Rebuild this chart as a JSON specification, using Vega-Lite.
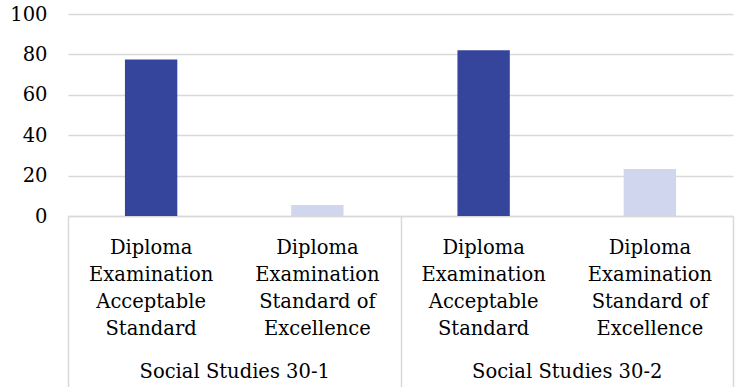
{
  "$schema": "https://vega.github.io/schema/vega-lite/v6.json",
  "autosize": "none",
  "width": 665,
  "height": 202,
  "padding": {"left": 68, "top": 14, "right": 7, "bottom": 171},
  "background": "white",
  "config": {
    "view": {"stroke": null},
    "font": "DejaVu Serif",
    "axis": {"labelFont": "DejaVu Serif", "labelColor": "#000000", "title": null}
  },
  "data": {
    "values": [
      {"group": "Social Studies 30-1", "key": "Diploma|Examination|Acceptable|Standard|1", "measure": "Acceptable", "value": 77.5},
      {"group": "Social Studies 30-1", "key": "Diploma|Examination|Standard of|Excellence|1", "measure": "Excellence", "value": 5.5},
      {"group": "Social Studies 30-2", "key": "Diploma|Examination|Acceptable|Standard|2", "measure": "Acceptable", "value": 82},
      {"group": "Social Studies 30-2", "key": "Diploma|Examination|Standard of|Excellence|2", "measure": "Excellence", "value": 23.3}
    ]
  },
  "layer": [
    {
      "mark": {"type": "bar", "width": {"band": 0.315}},
      "encoding": {
        "x": {
          "field": "key", "type": "nominal", "sort": null,
          "scale": {"paddingInner": 0, "paddingOuter": 0},
          "axis": {
            "orient": "bottom",
            "domain": false, "ticks": false, "grid": false,
            "labelAngle": 0,
            "labelExpr": "slice(split(datum.label, '|'), 0, 4)",
            "labelFont": "DejaVu Serif",
            "labelFontSize": 19.5,
            "labelLineHeight": 27,
            "labelBaseline": "top",
            "labelPadding": 22,
            "labelOverlap": false,
            "labelLimit": 300
          }
        },
        "y": {
          "field": "value", "type": "quantitative",
          "scale": {"domain": [0, 100]},
          "axis": {
            "values": [0, 20, 40, 60, 80, 100],
            "domain": false, "ticks": false,
            "gridColor": "#d9d9d9", "gridWidth": 1.5,
            "labelFont": "DejaVu Serif",
            "labelFontSize": 19.5,
            "labelPadding": 21
          }
        },
        "color": {
          "field": "measure", "type": "nominal",
          "scale": {"domain": ["Acceptable", "Excellence"], "range": ["#34459b", "#d0d6ee"]},
          "legend": null
        }
      }
    },
    {
      "mark": {"type": "bar", "opacity": 0},
      "encoding": {
        "x": {
          "field": "group", "type": "nominal", "sort": null,
          "scale": {"paddingInner": 0, "paddingOuter": 0},
          "axis": {
            "orient": "bottom",
            "domain": true, "domainColor": "#d9d9d9", "domainWidth": 1.5,
            "ticks": true, "tickBand": "extent", "tickSize": 171,
            "tickColor": "#d9d9d9", "tickWidth": 1.5,
            "grid": false,
            "labelAngle": 0,
            "labelFont": "DejaVu Serif",
            "labelFontSize": 19.5,
            "labelBaseline": "alphabetic",
            "labelPadding": -10,
            "labelOverlap": false,
            "labelLimit": 400
          }
        }
      }
    }
  ],
  "resolve": {"scale": {"x": "independent"}, "axis": {"x": "independent"}}
}
